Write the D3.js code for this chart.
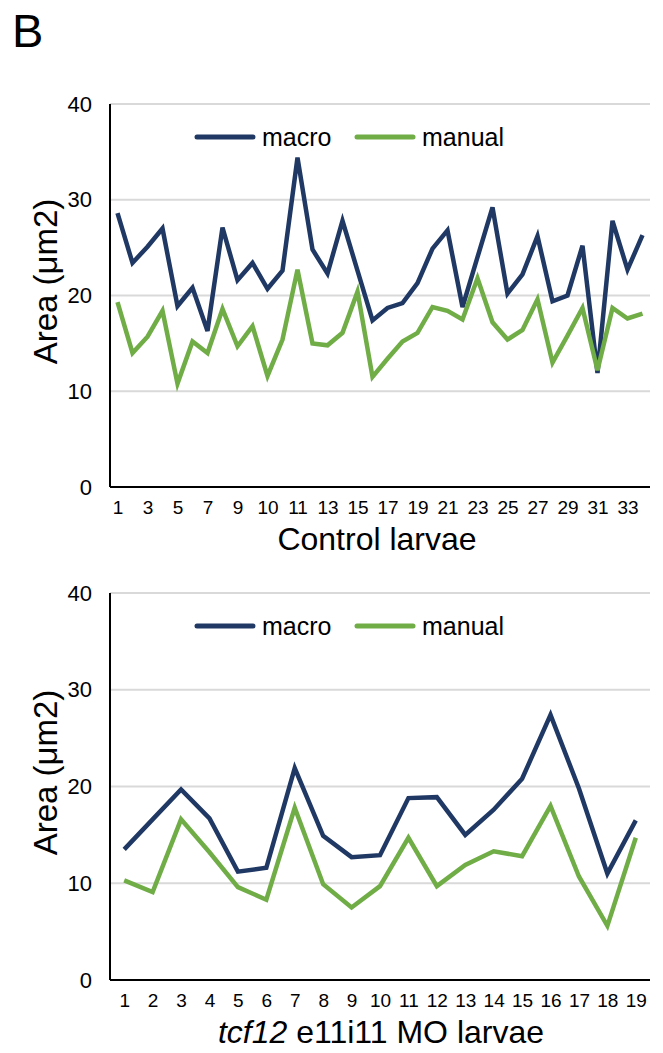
<!DOCTYPE html>
<html lang="en">
  <head>
    <meta charset="UTF-8" />
    <title>Area per larva</title>
    <script src="https://cdn.jsdelivr.net/npm/d3@7"></script>
    <style>
      body {
        margin: 0;
        background: #fff;
      }
      svg text {
        font-family: "Liberation Sans", Arial, sans-serif;
        fill: #000;
      }
      .grid line {
        stroke: #d9d9d9;
        stroke-width: 2;
      }
      .axis path,
      .axis line {
        stroke: #000;
        stroke-width: 2;
      }
    </style>
  </head>
  <body>
    <div id="chart"></div>

    <script>
      // Control larvae (top panel), category labels as they appear in the sheet
      const controlLabels = [
        "1", "2", "3", "4", "5", "6", "7", "8", "9", "10", "10", "11", "11",
        "12", "13", "14", "15", "16", "17", "18", "19", "20", "21", "22", "23",
        "24", "25", "26", "27", "28", "29", "30", "31", "32", "33", "34",
      ];
      const controlMacro = [
        28.6, 23.4, 25.1, 27.0, 18.9, 20.8, 16.3, 27.1, 21.6, 23.4, 20.7, 22.6,
        34.4, 24.8, 22.3, 27.8, 22.6, 17.4, 18.7, 19.2, 21.3, 24.9, 26.8, 18.8,
        24.0, 29.2, 20.2, 22.2, 26.2, 19.4, 20.0, 25.2, 11.9, 27.8, 22.7, 26.3,
      ];
      const controlManual = [
        19.3, 14.0, 15.7, 18.4, 10.8, 15.2, 14.0, 18.6, 14.7, 16.8, 11.6, 15.4,
        22.7, 15.0, 14.8, 16.1, 20.4, 11.5, 13.4, 15.2, 16.1, 18.8, 18.4, 17.5,
        21.8, 17.2, 15.4, 16.4, 19.6, 13.0, 15.8, 18.7, 12.2, 18.7, 17.6, 18.1,
      ];

      // tcf12 e11i11 MO larvae (bottom panel)
      const moLabels = d3.range(1, 20).map(String);
      const moMacro = [
        13.5, 16.6, 19.7, 16.7, 11.2, 11.6, 21.9, 14.9, 12.7, 12.9, 18.8, 18.9,
        15.0, 17.6, 20.8, 27.4, 19.8, 11.0, 16.5,
      ];
      const moManual = [
        10.3, 9.1, 16.6, 13.2, 9.6, 8.3, 17.8, 9.9, 7.5, 9.7, 14.7, 9.7, 11.9,
        13.3, 12.8, 18.0, 10.7, 5.6, 14.7,
      ];

      const yTicks = [0, 10, 20, 30, 40];
      const seriesNames = ["macro", "manual"];
      const colors = { macro: "#1f3864", manual: "#70ad47" };

      const width = 663,
        height = 1053;

      const svg = d3
        .select("#chart")
        .append("svg")
        .attr("width", width)
        .attr("height", height);

      svg
        .append("text")
        .attr("x", 12)
        .attr("y", 47)
        .style("font-size", "47px")
        .text("B");

      function drawPanel(opts) {
        const n = opts.labels.length;
        const x = d3
          .scalePoint()
          .domain(d3.range(n))
          .range([110, 650])
          .padding(0.5);
        const y = d3.scaleLinear().domain([0, 40]).range([opts.bottom, opts.top]);

        // horizontal gridlines
        svg
          .append("g")
          .attr("class", "grid")
          .selectAll("line")
          .data(yTicks.filter((t) => t > 0))
          .join("line")
          .attr("x1", 110)
          .attr("x2", 650)
          .attr("y1", (d) => y(d))
          .attr("y2", (d) => y(d));

        // y axis
        const yAxis = svg
          .append("g")
          .attr("class", "axis")
          .attr("transform", "translate(110,0)")
          .call(d3.axisLeft(y).tickValues(yTicks).tickSize(0).tickPadding(18));
        yAxis.selectAll("text").style("font-size", "22px");

        // x axis
        const xAxis = svg
          .append("g")
          .attr("class", "axis")
          .attr("transform", `translate(0,${opts.bottom})`)
          .call(
            d3
              .axisBottom(x)
              .tickValues(d3.range(0, n, opts.step))
              .tickFormat((i) => opts.labels[i])
              .tickSize(0)
              .tickPadding(14)
          );
        xAxis.selectAll("text").style("font-size", "19px");
        xAxis.select(".domain").attr("d", `M110,0H650`);
        yAxis.select(".domain").attr("d", `M0,${opts.top}V${opts.bottom}`);

        // lines
        const line = d3
          .line()
          .x((d, i) => x(i))
          .y((d) => y(d));

        [opts.macro, opts.manual].forEach((vals, k) => {
          svg
            .append("path")
            .datum(vals)
            .attr("fill", "none")
            .attr("stroke", colors[seriesNames[k]])
            .attr("stroke-width", 4.5)
            .attr("stroke-linejoin", "miter")
            .attr("d", line);
        });

        // legend
        const leg = svg
          .append("g")
          .attr("transform", `translate(0,${opts.top + 33})`);
        const legX = [197, 357];
        seriesNames.forEach((name, k) => {
          leg
            .append("line")
            .attr("x1", legX[k])
            .attr("x2", legX[k] + 56)
            .attr("stroke", colors[name])
            .attr("stroke-width", 5)
            .attr("stroke-linecap", "round");
          leg
            .append("text")
            .attr("x", legX[k] + 65)
            .attr("y", 9)
            .style("font-size", "25px")
            .text(name);
        });

        // y title
        svg
          .append("text")
          .attr(
            "transform",
            `translate(57,${(opts.top + opts.bottom) / 2 - 14}) rotate(-90)`
          )
          .attr("text-anchor", "middle")
          .style("font-size", "33px")
          .text("Area (μm2)");

        // x title
        const xt = svg
          .append("text")
          .attr("x", opts.titleX)
          .attr("y", opts.bottom + 63)
          .attr("text-anchor", "middle")
          .style("font-size", "32px");
        opts.title(xt);
      }

      drawPanel({
        top: 104,
        bottom: 487,
        labels: controlLabels,
        macro: controlMacro,
        manual: controlManual,
        step: 2,
        titleX: 377,
        title: (t) => t.text("Control larvae"),
      });

      drawPanel({
        top: 593,
        bottom: 980,
        labels: moLabels,
        macro: moMacro,
        manual: moManual,
        step: 1,
        titleX: 381,
        title: (t) => {
          t.append("tspan").style("font-style", "italic").text("tcf12");
          t.append("tspan").text(" e11i11 MO larvae");
        },
      });
    </script>
  </body>
</html>
